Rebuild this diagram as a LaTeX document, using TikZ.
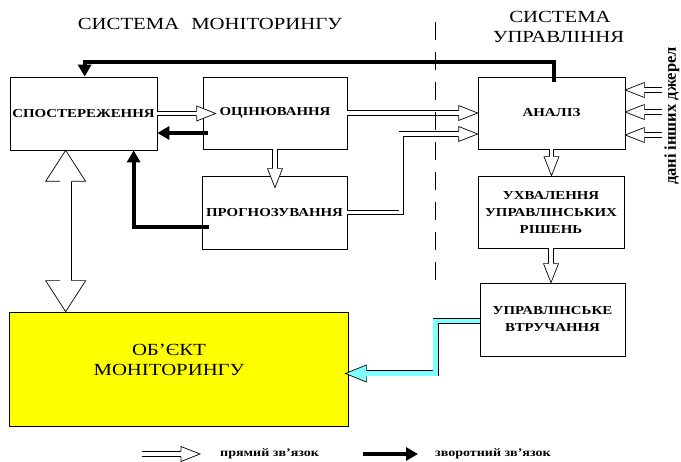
\documentclass[tikz,border=0pt]{standalone}
\usepackage{fontspec}
\setmainfont{Liberation Serif}
\newfontfamily\shyr[FakeStretch=1.22]{Liberation Serif}
\usetikzlibrary{positioning, arrows.meta, calc, decorations.markings}
\definecolor{zhovtyi}{RGB}{255,255,0}
\definecolor{blakytnyi}{RGB}{128,255,255}
\newcommand{\hollowhead}[4]{%
  \begin{scope}[shorten <=0pt, shorten >=0pt]
    \fill[#4] (-#1,#2) -- (0,0) -- (-#1,-#2) -- cycle;
    \draw[black, line width=0.7pt] (-#1,#3) -- (-#1,#2) -- (0,0) -- (-#1,-#2) -- (-#1,-#3);
  \end{scope}}
\tikzset{
  blok/.style={draw, line width=0.7pt, fill=white, inner sep=1pt, align=center, font=\shyr\bfseries\fontsize{12.2}{17}\selectfont},
  zagol/.style={font=\shyr\fontsize{17}{20}\selectfont, inner sep=0pt, align=center},
  pidpys/.style={font=\shyr\bfseries\fontsize{11.5}{14}\selectfont, inner sep=0pt},
  zvorot/.style={line width=3.8pt, -{Triangle[length=12pt, width=13pt]}},
  pryam/.style={draw=black, line width=0.7pt, double=white, double distance=3.8pt, shorten >=12pt,
    postaction={decorate, decoration={markings, mark=at position 1 with {\hollowhead{19}{7.5}{2.6}{white}}}}},
  pryamdvi/.style={draw=black, line width=0.7pt, double=white, double distance=10.4pt, shorten <=20pt, shorten >=20pt,
    postaction={decorate, decoration={markings,
      mark=at position 0 with {\begin{scope}[rotate=180]\hollowhead{31}{20}{5.9}{white}\end{scope}},
      mark=at position 1 with {\hollowhead{31}{20}{5.9}{white}}}}},
  keruv/.style={draw=black, line width=0.7pt, double=blakytnyi, double distance=4.6pt, shorten >=12pt,
    postaction={decorate, decoration={markings, mark=at position 1 with {\hollowhead{21}{8.5}{3}{blakytnyi}}}}},
  rozdil/.style={line width=0.8pt, dash pattern=on 18pt off 12pt},
}
\begin{document}
\begin{tikzpicture}[x=1pt, y=-1pt]
  \useasboundingbox (0,0) rectangle (681,462);
  \node[zagol, anchor=base] (tmon) at (210,30) {СИСТЕМА\hspace{12pt}МОНІТОРИНГУ};
  \node[zagol, anchor=base] (tupr1) at (560,23) {СИСТЕМА};
  \node[zagol, anchor=base] (tupr2) at (558.5,43) {УПРАВЛІННЯ};

  \node[blok, minimum width=147pt, minimum height=73pt] (spost) at (83.5,113.5) {СПОСТЕРЕЖЕННЯ};
  \node[blok, minimum width=144pt, minimum height=72pt] (ocin) at (275,113) {ОЦІНЮВАННЯ};
  \node[blok, minimum width=147pt, minimum height=72pt] (analiz) at (551.5,113) {АНАЛІЗ};
  \node[blok, minimum width=145pt, minimum height=73pt] (prognoz) at (274.5,212.5) {ПРОГНОЗУВАННЯ};
  \node[blok, minimum width=146pt, minimum height=72pt] (uhval) at (551,212) {УХВАЛЕННЯ\\УПРАВЛІНСЬКИХ\\РІШЕНЬ};
  \node[blok, minimum width=145pt, minimum height=73pt] (vtruch) at (552.5,319.5) {УПРАВЛІНСЬКЕ\\ВТРУЧАННЯ};
  \node[draw, line width=0.7pt, fill=zhovtyi, minimum width=339pt, minimum height=114pt] (obiekt) at (178.5,369) {};
  \node[zagol] (obiekttxt) at (169,359.5) {ОБ’ЄКТ\\МОНІТОРИНГУ};
  \node[font=\bfseries\fontsize{16.5}{16.5}\selectfont, rotate=90, inner sep=0pt] (dzherela) at (672,116) {дані інших джерел};

  \draw[pryam] (spost.east) -- ($(ocin.west)+(13,0.5)$);
  \draw[pryam] (ocin.east) -- (analiz.west);
  \draw[pryam] (prognoz.east) -- ++(54,0) |- ($(analiz.west)+(0,21)$);
  \draw[pryam] (ocin.south) -- ($(ocin.south |- prognoz.north)+(0,12)$);
  \draw[pryam] (analiz.south) -- (analiz.south |- uhval.north);
  \draw[pryam] (uhval.south) -- (uhval.south |- vtruch.north);
  \foreach \n/\y in {1/90, 2/112, 3/135} {
    \coordinate (dz\n) at (662,\y);
    \draw[pryam] (dz\n) -- (dz\n -| analiz.east);
  }
  \coordinate (sv1) at ($(spost.south west)+(56,0)$);
  \draw[pryamdvi] (sv1) -- (sv1 |- obiekt.north);
  \draw[keruv] ($(vtruch.west)+(0,1.5)$) -- ++(-44,0) |- ($(obiekt.east)+(-3,4.5)$);

  \draw[zvorot] ($(ocin.west)+(5,20)$) -- ($(spost.east)+(0,19.5)$);
  \draw[zvorot] ($(prognoz.west)+(7,14.5)$) -| ($(spost.south west)+(124,0)$);
  \draw[zvorot] ($(analiz.north)+(2.5,5)$) -- ++(0,-20) -| ($(spost.north west)+(75,0)$);

  \coordinate (rozd1) at (435,22);
  \coordinate (rozd2) at (435,283);
  \draw[rozdil] (rozd1) -- (rozd2);

  \coordinate (lp1) at (142,454);
  \coordinate (lp2) at (200,454);
  \draw[pryam] (lp1) -- (lp2);
  \node[pidpys, anchor=west] (lptxt) at (220,454) {прямий зв’язок};
  \coordinate (lz1) at (363,454);
  \coordinate (lz2) at (418,454);
  \draw[zvorot] (lz1) -- (lz2);
  \node[pidpys, anchor=west] (lztxt) at (435,454) {зворотний зв’язок};
\end{tikzpicture}
\end{document}
